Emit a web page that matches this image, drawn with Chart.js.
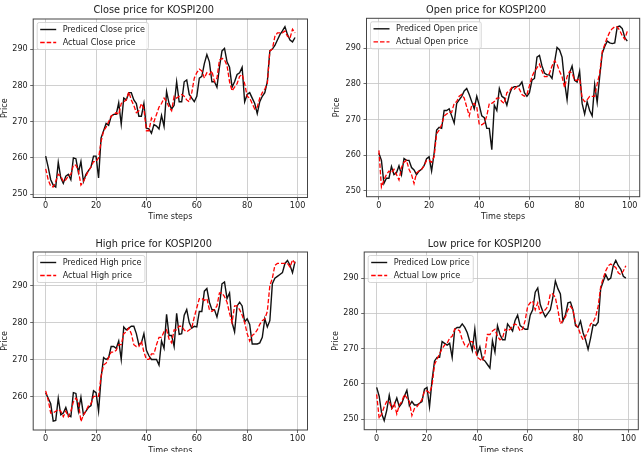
<!DOCTYPE html>
<html lang="en">
<head>
<meta charset="UTF-8">
<title>KOSPI200 price prediction</title>
<script src="https://cdn.jsdelivr.net/npm/chart.js"></script>
<style>
  html, body { margin: 0; padding: 0; background: #fff; overflow: hidden; }
  body { width: 644px; height: 452px; position: relative; }
  .panel { position: absolute; left: 0; top: 0; width: 644px; height: 470px; }
</style>
</head>
<body>
<div class="panel"><canvas id="closeChart"></canvas></div>
<div class="panel"><canvas id="openChart"></canvas></div>
<div class="panel"><canvas id="highChart"></canvas></div>
<div class="panel"><canvas id="lowChart"></canvas></div>
<script>
// time step index 0..99
const steps = Array.from({ length: 100 }, (_, i) => i);
const xTicks = [0, 20, 40, 60, 80, 100];
const yTicks = [250, 260, 270, 280, 290];
const yTicksHigh = [260, 270, 280, 290];

const predClose = [
  260.5, 257.5, 254, 252.5, 252, 258.8, 254.5, 253, 255, 255.5,
  254, 260, 259.8, 256, 259, 253.5, 255.5, 256.5, 257.5, 260.5,
  260.5, 254.5, 265.5, 267.5, 269.5, 269, 271.5, 272, 272, 275.2,
  269.3, 276.5, 276, 278, 278, 276, 275, 271.5, 271.5, 275,
  268.2, 268, 266.8, 269.2, 268.8, 268, 271.7, 268.7, 278.3, 275,
  273.5, 274.5, 281, 275.5, 275.5, 281, 281.5, 277.5, 276.5, 275.5,
  277, 282, 282.5, 286, 288.5, 286.5, 281, 281, 279.5, 285,
  289.5, 290.2, 286.5, 285, 279.5, 281, 283, 283.5, 285, 275.5,
  277.5, 278, 276.5, 275, 272.2, 275.5, 277, 278, 281, 289.5,
  290, 291, 292.5, 294, 295, 296.2, 294, 292.5, 292, 293.2
];
const actualClose = [
  257, 254, 252.2, 252, 253.5, 255.5, 255, 253.5, 254, 255,
  255.5, 258, 258, 256.5, 252.5, 253.5, 255, 256.5, 257.5, 259,
  259, 260, 264.5, 267.5, 268.5, 270, 271.5, 272, 272.5, 272,
  275, 275.5, 276, 278.2, 276, 274.5, 272.5, 273, 275, 273.5,
  267.5, 267.5, 271, 270, 272, 274, 275, 276.5, 275.5, 274,
  273, 277, 276.5, 277, 277.5, 277, 276, 275.5, 278, 282,
  283.5, 284.5, 284, 282, 283.5, 283, 284, 281, 282, 287,
  287.5, 287, 285.5, 281, 278.5, 279.5, 280.5, 282.5, 283, 280.5,
  277, 276.5, 275, 273.5, 274, 276.5, 278, 279, 280.5, 289.5,
  290, 293.5, 294.5, 294.5, 294.5, 295, 293.5, 293, 295.5, 294.5
];

const predOpen = [
  260.5, 258.5, 252, 253.5, 253.5, 256.8, 254.5, 255, 257, 254.5,
  259, 258.5, 258.5, 256.5, 255.8, 254.5, 255.5, 256, 257, 259,
  259.5, 255.5, 260.5, 267, 267.8, 267.5, 272.5, 272.5, 273, 271,
  269, 274.5, 275.5, 276.5, 278, 278.7, 277, 275, 273, 276.5,
  274, 271, 270.5, 267.5, 267.5, 261.5, 274, 272.5, 278.7, 276.5,
  276, 274, 277, 278.8, 279.2, 279.2, 279.5, 280.5, 277.5, 276.5,
  277.5, 281, 281.5, 287.5, 288, 285, 283, 282.5, 282.5, 281.5,
  286, 290.2, 289.5, 287.5, 280.5, 275.5, 283, 285, 281, 280.5,
  283.5, 274.5, 271.5, 275, 272.5, 271, 279.8, 274.8, 282, 288.5,
  290.5, 292, 291.5, 291.3, 291.5, 296, 296.2, 295.5, 293, 292
];
const actualOpen = [
  261.3, 251, 253, 254.5, 255.5, 255, 256, 254.5, 253, 256.5,
  258, 258.5, 256, 254.5, 252, 255, 255.5, 256, 257, 258.5,
  258.5, 258, 259.5, 266, 267, 268.5, 271, 271.5, 272, 272,
  274.5, 275, 276.5, 277, 276, 273.5, 271, 274, 274.5, 273.5,
  268.5, 268.5, 269, 271, 274.5, 274.5, 275, 276, 276, 275,
  274.5, 277.5, 278, 279, 278.5, 279.2, 278.5, 277, 276.5, 277,
  279.5, 282, 283.5, 284.5, 285.5, 283.5, 282, 282, 283, 285,
  286.5, 285.5, 283.5, 282, 279, 282, 283.5, 283, 281, 281,
  281.5, 276, 275, 275.5, 276.5, 276.5, 276.5, 280, 283, 289,
  291, 293, 294.5, 295.5, 296, 296, 295, 293.5, 292.5, 294.8
];

const predHigh = [
  261, 259.5, 258, 253.3, 253.5, 259.5, 255, 255.5, 257, 254.8,
  254.5, 261, 260.8, 256, 259.8, 255, 256, 257, 257.5, 261.5,
  261, 256, 265, 270.5, 270, 270.5, 273.5, 273.5, 273, 275,
  270, 278.8, 278, 278.5, 279, 279, 277, 274, 274.5, 277,
  272.5, 271, 270, 270, 270, 268.5, 275, 273, 282.2, 276.5,
  276.5, 273.5, 282.5, 276.8, 277, 282, 283.5, 280, 278.5, 279,
  278.8, 283, 283, 288.5, 289.2, 285.5, 283.5, 283.5, 281.5, 284.5,
  290.5, 291, 286.5, 288, 280, 277.5, 284.5, 285.5, 284.5, 280.2,
  281, 279.5, 274.2, 274.2, 274.2, 274.5, 276, 281, 278.8, 280.5,
  290.5, 292, 292.5, 293, 293.5, 296, 296.8, 295.5, 293.5, 296.5
];
const actualHigh = [
  261.5, 259, 255.5, 255.5, 256, 256.5, 256, 254.5, 256, 254.5,
  256, 258.5, 259.5, 258.5, 253.2, 255, 256, 257.5, 258, 260,
  260, 260, 265.5, 268.5, 269, 270.5, 272, 272, 272.5, 274,
  274, 277, 277.5, 278.5, 277, 274, 273.5, 273.5, 275, 272,
  270, 270, 271.5, 271.5, 274, 276, 276, 277.5, 278, 275.5,
  274.5, 278, 278, 279, 279, 278, 277.5, 278, 278.5, 281.5,
  284, 286.5, 286.5, 286, 286.5, 283.5, 283, 283.5, 284.5, 288,
  288, 287, 285.5, 282.5, 280, 284.5, 284.5, 283.5, 282, 280,
  277, 275, 276.5, 277, 278, 279.5, 280.5, 281, 283, 290,
  292, 295.5, 296, 296, 296, 296, 296, 295, 297, 296
];

const predLow = [
  259, 256.5, 251.5, 249.6, 252.5, 256.8, 253, 254, 256, 253.5,
  254.5, 256.5, 258.2, 253.8, 255, 254, 254, 254.5, 255, 258.5,
  259, 253.5, 261, 266.5, 267.5, 267.5, 272, 271.5, 271, 271.5,
  267.5, 275.5, 276, 276, 277, 276, 274.5, 272, 269.5, 275.5,
  268.5, 270.5, 267, 266.5, 265.5, 264.5, 272.2, 269, 276.5, 274,
  272.5, 272.5, 277, 276, 275, 278, 279.5, 276.5, 276, 275.5,
  275.5, 279.5, 281, 286, 287.2, 282.5, 280.5, 279, 280, 281,
  284.5, 289.2, 287, 285.5, 277.8, 279.5, 283, 283.2, 281, 276.5,
  276, 277.8, 274.5, 272.5, 269.8, 273, 276.8, 276.5, 277.5, 287,
  289, 291, 289.5, 290, 293.5, 295, 293.5, 292.5, 290.5, 290
];
const actualLow = [
  257, 250.2, 251.5, 253.5, 255, 255, 253, 254.5, 251.5, 254,
  255, 257, 256, 255, 251, 253, 253.5, 254.5, 255.5, 258,
  258, 257.5, 259.5, 265.5, 267, 268.5, 270, 271, 271.5, 273,
  273.5, 275.5, 275.5, 275, 272.5, 271, 270.5, 272, 272, 270,
  267.5, 267, 266.5, 268.5, 274, 274, 275, 275.5, 273.5, 272.5,
  273, 275.5, 275, 275.5, 276.5, 277, 276.5, 275, 275.5, 278,
  282, 283, 283.5, 281, 283, 280, 280.5, 281, 282, 285.5,
  285.5, 284.5, 281, 277, 278, 279, 281, 282, 281, 277,
  276, 274, 272.5, 273.5, 275, 277, 277.5, 279, 282, 287.5,
  290, 292, 293.5, 294, 293.5, 293, 291.5, 291, 292, 293.5
];

Chart.defaults.font.family = '"DejaVu Sans", sans-serif';
Chart.defaults.color = '#222';

const W = 644, H = 470;
const tickFont = 8.1, titleFont = 9.75, lh = 1.2;

// plot area (page px) of each subplot, plus where title / axis labels sit
const panels = [
  { id: 'closeChart', name: 'Close', pred: predClose, actual: actualClose,
    yMin: 249.1, yMax: 298.3, yTicks: yTicks,
    box: { l: 33.2, r: 307.5, t: 19, b: 197.5 }, titleY: 10, yLabelX: 4.8, xLabelY: 217 },
  { id: 'openChart', name: 'Open', pred: predOpen, actual: actualOpen,
    yMin: 248.3, yMax: 298.4, yTicks: yTicks,
    box: { l: 366.5, r: 639.7, t: 18.3, b: 196.7 }, titleY: 10, yLabelX: 337.3, xLabelY: 217 },
  { id: 'highChart', name: 'High', pred: predHigh, actual: actualHigh,
    yMin: 250.9, yMax: 299.1, yTicks: yTicksHigh,
    box: { l: 33.2, r: 307.5, t: 252, b: 430 }, titleY: 244, yLabelX: 4.8, xLabelY: 451 },
  { id: 'lowChart', name: 'Low', pred: predLow, actual: actualLow,
    yMin: 247.0, yMax: 297.4, yTicks: yTicks,
    box: { l: 364.2, r: 638.3, t: 252, b: 429.7 }, titleY: 244, yLabelX: 335.5, xLabelY: 450.7 }
];

// frame + legend drawn inside the axes, matplotlib style
const axesDecor = {
  id: 'axesDecor',
  afterDatasetsDraw(chart) {
    const { ctx, chartArea: a } = chart;
    ctx.save();
    ctx.strokeStyle = '#444';
    ctx.lineWidth = 1;
    ctx.strokeRect(a.left, a.top, a.right - a.left, a.bottom - a.top);

    ctx.font = tickFont + 'px "DejaVu Sans"';
    const items = chart.data.datasets;
    const textW = Math.max(...items.map(d => ctx.measureText(d.label).width));
    const x = a.left + 4, y = a.top + 3.5;
    const w = 3 + 16 + 6.5 + textW + 3.5, h = 27;
    ctx.beginPath();
    ctx.roundRect(x, y, w, h, 2);
    ctx.fillStyle = 'rgba(255,255,255,0.8)';
    ctx.fill();
    ctx.strokeStyle = '#cccccc';
    ctx.lineWidth = 0.8;
    ctx.stroke();
    items.forEach((d, i) => {
      const ly = y + 7 + i * 13;
      ctx.beginPath();
      ctx.setLineDash(d.borderDash || []);
      ctx.strokeStyle = d.borderColor;
      ctx.lineWidth = d.borderWidth;
      ctx.moveTo(x + 3, ly);
      ctx.lineTo(x + 19, ly);
      ctx.stroke();
      ctx.setLineDash([]);
      ctx.fillStyle = '#222';
      ctx.textBaseline = 'middle';
      ctx.textAlign = 'left';
      ctx.fillText(d.label, x + 25.5, ly);
    });
    ctx.restore();
  }
};

panels.forEach(p => {
  const tlh = titleFont * lh, alh = tickFont * lh;
  const titleBottomPad = p.box.t - p.titleY - tlh / 2;
  const padTop = p.titleY - tlh / 2;
  const padLeft = Math.max(0, p.yLabelX - alh / 2);
  const xScaleBottom = p.xLabelY + alh / 2;
  const padBottom = H - xScaleBottom;
  const xAxisH = xScaleBottom - p.box.b;
  const yAxisW = p.box.l - padLeft;

  new Chart(document.getElementById(p.id), {
    type: 'line',
    data: {
      labels: steps,
      datasets: [
        { label: 'Prediced ' + p.name + ' price', data: p.pred, borderColor: '#111',
          borderWidth: 1.4, pointRadius: 0, fill: false, tension: 0, order: 1 },
        { label: 'Actual ' + p.name + ' price', data: p.actual, borderColor: '#ff0000',
          borderWidth: 1.3, borderDash: [4.5, 2], pointRadius: 0, fill: false, tension: 0, order: 0 }
      ]
    },
    options: {
      responsive: true,
      maintainAspectRatio: false,
      animation: false,
      events: [],
      layout: { padding: { top: padTop, left: padLeft, right: W - p.box.r, bottom: padBottom } },
      plugins: {
        legend: { display: false },
        tooltip: { enabled: false },
        title: {
          display: true,
          text: p.name + ' price for KOSPI200',
          color: '#222',
          font: { size: titleFont, weight: 'normal', lineHeight: lh },
          padding: { top: 0, bottom: titleBottomPad }
        }
      },
      scales: {
        x: {
          type: 'linear', min: -4.95, max: 103.95,
          afterBuildTicks: s => { s.ticks = xTicks.map(v => ({ value: v })); },
          afterFit: s => { s.height = xAxisH; },
          grid: { color: '#c4c4c4', lineWidth: 0.8, tickLength: 3, tickColor: '#444', tickWidth: 0.8 },
          border: { display: false },
          ticks: { font: { size: tickFont }, color: '#222', padding: 1, maxRotation: 0, autoSkip: false },
          title: { display: true, text: 'Time steps', color: '#222',
                   font: { size: tickFont, lineHeight: lh }, padding: { top: 0, bottom: 0 } }
        },
        y: {
          type: 'linear', min: p.yMin, max: p.yMax,
          afterBuildTicks: s => { s.ticks = p.yTicks.map(v => ({ value: v })); },
          afterFit: s => { s.width = yAxisW; },
          grid: { color: '#c4c4c4', lineWidth: 0.8, tickLength: 3, tickColor: '#444', tickWidth: 0.8 },
          border: { display: false },
          ticks: { font: { size: tickFont }, color: '#222', padding: 2.5 },
          title: { display: true, text: 'Price', color: '#222',
                   font: { size: tickFont, lineHeight: lh }, padding: { top: 0, bottom: 0 } }
        }
      }
    },
    plugins: [axesDecor]
  });
});
</script>
</body>
</html>
